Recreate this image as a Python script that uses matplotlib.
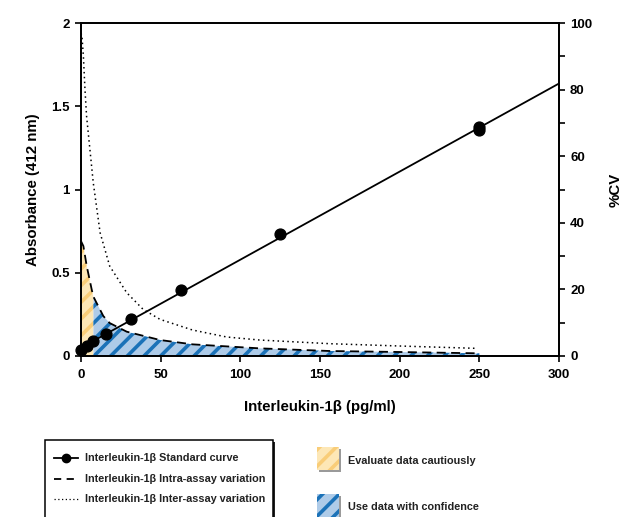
import numpy as np
import matplotlib
matplotlib.use("Agg")
import matplotlib.pyplot as plt
from matplotlib.patches import Rectangle
from matplotlib.lines import Line2D

plt.rcParams['font.family'] = ['Liberation Sans', 'DejaVu Sans']
plt.rcParams['font.weight'] = 'bold'
plt.rcParams['hatch.linewidth'] = 2.6

# standard curve (absorbance)
conc = [0, 3.9, 7.8, 15.6, 31.25, 62.5, 125, 250, 250]
absorb = [0.036, 0.062, 0.088, 0.13, 0.22, 0.395, 0.731, 1.355, 1.375]

# intra-assay %CV (dashed)
intra_x = [0, 1.5, 3.6, 6.7, 7.8, 14, 18, 28.7, 49.6, 70, 112, 156, 200, 250]
intra_cv = [34.5, 33, 27, 20, 17.8, 12, 9.9, 7.3, 4.8, 3.5, 2.3, 1.5, 1.2, 0.8]

# inter-assay %CV (dotted)
inter_x = [0, 0.6, 1.5, 2.5, 3.5, 5.6, 7.7, 12, 18, 28.7, 39, 49.6, 70, 91.5, 112, 156, 200, 248]
inter_cv = [97, 96, 90, 80, 72, 62, 52, 37, 27, 19, 14, 11, 7.8, 5.7, 4.8, 3.7, 3.0, 2.3]

caution_end = 7.8

fig = plt.figure(figsize=(6.25, 5.17), dpi=100)
ax = fig.add_axes([81 / 625, 1 - 356 / 517, 478 / 625, 333 / 517])
ax2 = ax.twinx()

# shaded regions under intra-assay curve
ix = np.array(intra_x)
icv = np.array(intra_cv)
m1 = ix <= caution_end
ax2.fill_between(ix[m1], 0, icv[m1], facecolor='#fde7b6', edgecolor='#f9cd78',
                 hatch='//', linewidth=0, zorder=1)
m2 = ix >= caution_end
ax2.fill_between(ix[m2], 0, icv[m2], facecolor='#aecbe8', edgecolor='#1b72b8',
                 hatch='//', linewidth=0, zorder=1)

ax2.plot(intra_x, intra_cv, color='black', linestyle=(0, (5, 3)), linewidth=1.3, zorder=3)
ax2.plot(inter_x, inter_cv, color='black', linestyle=(0, (1, 2.2)), linewidth=1.1, zorder=3)

# standard curve and linear fit
coef = np.polyfit(conc, absorb, 1)
fit_x = np.array([0, 300])
ax.plot(fit_x, np.polyval(coef, fit_x), color='black', linewidth=1.3, zorder=4)
ax.plot(conc, absorb, 'o', color='black', markersize=7.8, zorder=5, clip_on=False)

ax.set_zorder(ax2.get_zorder() + 1)
ax.patch.set_visible(False)

ax.set_xlim(0, 300)
ax.set_ylim(0, 2)
ax2.set_ylim(0, 100)
ax.set_xticks([0, 50, 100, 150, 200, 250, 300])
ax.set_yticks([0, 0.5, 1, 1.5, 2])
ax.set_yticklabels(['0', '0.5', '1', '1.5', '2'])
ax2.set_yticks([0, 20, 40, 60, 80, 100])
ax2.set_yticks([10, 30, 50, 70, 90], minor=True)

for a in (ax, ax2):
    for s in a.spines.values():
        s.set_linewidth(1.3)
    a.tick_params(width=1.2, length=4, labelsize=9.5, direction='out', pad=4)
ax2.tick_params(which='minor', width=1.2, length=4)
ax.tick_params(axis='x', pad=5)

ax.set_xlabel('Interleukin-1β (pg/ml)', fontsize=10.8, fontweight='bold', labelpad=14)
ax.set_ylabel('Absorbance (412 nm)', fontsize=10.8, fontweight='bold', labelpad=8)
ax2.set_ylabel('%CV', fontsize=10.8, fontweight='bold', labelpad=12)

# left legend box (bottom runs off the figure)
W, H = 625, 517
def fx(px):
    return px / W
def fy(py):
    return 1 - py / H

fig.add_artist(Rectangle((fx(47), fy(530)), fx(228), fy(442) - fy(530),
                         transform=fig.transFigure, facecolor='#222222', edgecolor='none', zorder=1))
fig.add_artist(Rectangle((fx(45), fy(528)), fx(228), fy(440) - fy(528),
                         transform=fig.transFigure, facecolor='white', edgecolor='black',
                         linewidth=1.1, zorder=2))

labels = ['Interleukin-1β Standard curve', 'Interleukin-1β Intra-assay variation',
          'Interleukin-1β Inter-assay variation']
styles = [dict(linestyle='-', linewidth=1.3, marker='o', markersize=6, markevery=[1]),
          dict(linestyle=(0, (4, 3)), linewidth=1.3),
          dict(linestyle=(0, (1, 2)), linewidth=0.9)]
rows = [458, 479, 499]
for lab, st, r in zip(labels, styles, rows):
    fig.add_artist(Line2D([fx(54), fx(66), fx(78)], [fy(r)] * 3, transform=fig.transFigure,
                          color='black', zorder=3, **st))
    fig.text(fx(85), fy(r), lab, fontsize=7.8, fontweight='bold', va='center', ha='left',
             color='#222222', zorder=3)

# hatch keys on the right
keys = [(447, 'Evaluate data cautiously', '#fde7b6', '#f9cd78', 460.5),
        (494, 'Use data with confidence', '#aecbe8', '#1b72b8', 506.5)]
for top, lab, fc, hc, ty in keys:
    fig.add_artist(Rectangle((fx(319), fy(top + 25)), fx(22), fy(top + 2) - fy(top + 25),
                             transform=fig.transFigure, facecolor='#9a9a9a',
                             edgecolor='none', zorder=1))
    fig.add_artist(Rectangle((fx(317), fy(top + 23)), fx(22), fy(top) - fy(top + 23),
                             transform=fig.transFigure, facecolor=fc, edgecolor=hc,
                             hatch='//', linewidth=0, zorder=2))
    fig.text(fx(348), fy(ty), lab, fontsize=7.8, fontweight='bold', va='center', ha='left',
             color='#222222')

fig.savefig('out.png', dpi=100)
